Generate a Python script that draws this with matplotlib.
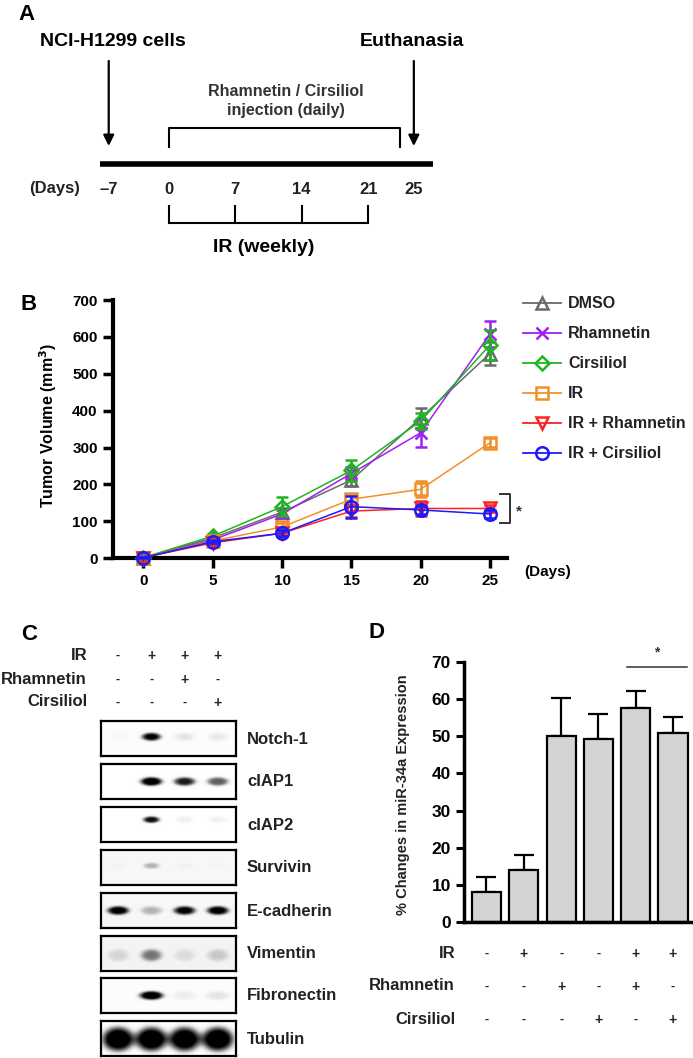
import numpy as np
import matplotlib
matplotlib.use('Agg')
import matplotlib.pyplot as plt
import matplotlib.transforms as mtransforms

plt.rcParams['font.family'] = ['Liberation Sans', 'DejaVu Sans']
plt.rcParams['font.weight'] = 'bold'
plt.rcParams['axes.labelweight'] = 'bold'
plt.rcParams['mathtext.default'] = 'bf'

W, H, DPI = 693, 1058, 100

# ---------------- data ----------------
# Panel A (schedule)
scheme_days = [-7, 0, 7, 14, 21, 25]
ir_days = [0, 7, 14, 21]
injection_span = [0, 24.3]

# Panel B (tumor volume)
days = [0, 5, 10, 15, 20, 25]
series_names = ['DMSO', 'Rhamnetin', 'Cirsiliol', 'IR', 'IR + Rhamnetin', 'IR + Cirsiliol']
dmso = [2, 55, 125, 212, 380, 555]
dmso_err = [1, 5, 12, 15, 28, 30]
rham = [2, 50, 120, 230, 340, 608]
rham_err = [1, 5, 10, 18, 38, 35]
cirs = [2, 60, 140, 238, 372, 578]
cirs_err = [1, 6, 25, 28, 22, 40]
ir = [2, 47, 85, 160, 187, 313]
ir_err = [1, 5, 12, 14, 22, 12]
ir_rham = [2, 42, 68, 128, 135, 135]
ir_rham_err = [1, 4, 8, 15, 20, 10]
ir_cirs = [2, 45, 68, 140, 131, 120]
ir_cirs_err = [1, 4, 8, 30, 10, 10]

# Panel C (western blot band intensities, lanes 1-4)
blot_names = ['Notch-1', 'cIAP1', 'cIAP2', 'Survivin', 'E-cadherin', 'Vimentin', 'Fibronectin', 'Tubulin']
notch1 = [0.03, 0.85, 0.14, 0.12]
ciap1 = [0.0, 0.95, 0.78, 0.60]
ciap2 = [0.0, 0.82, 0.10, 0.10]
survivin = [0.04, 0.30, 0.05, 0.03]
ecadherin = [0.85, 0.30, 0.82, 0.86]
vimentin = [0.15, 0.45, 0.12, 0.20]
fibronectin = [0.0, 0.95, 0.10, 0.14]
tubulin = [1.0, 1.0, 0.98, 1.0]
c_ir = ['-', '+', '+', '+']
c_rham = ['-', '-', '+', '-']
c_cirs = ['-', '-', '-', '+']

# Panel D (miR-34a expression)
d_values = [8, 14, 50, 49.3, 57.5, 51]
d_err = [4, 4, 10.3, 6.7, 4.8, 4.3]
d_ir = ['-', '+', '-', '-', '+', '+']
d_rham = ['-', '-', '+', '-', '+', '-']
d_cirs = ['-', '-', '-', '+', '-', '+']

# ---------------- figure ----------------
fig = plt.figure(figsize=(W / DPI, H / DPI), dpi=DPI)


def rect(x0, y0, x1, y1):
    return [x0 / W, 1 - y1 / H, (x1 - x0) / W, (y1 - y0) / H]


# ===== Panel A =====
ax_a = fig.add_axes(rect(0, 0, W, 290))
day_slope, day_zero = 9.505, 168.6
ax_a.set_xlim(-day_zero / day_slope, (W - day_zero) / day_slope)
ax_a.set_ylim(290, 0)
ax_a.axis('off')
ax_a.text(-14.9, 15, 'A', fontsize=16, ha='center', va='center')
ax_a.text(-5.9, 42, 'NCI-H1299 cells', fontsize=14, ha='center', va='center')
ax_a.text(25.6, 42, 'Euthanasia', fontsize=14, ha='center', va='center')
for d in (scheme_days[0], scheme_days[-1]):
    xd = d + (0.8 if d == scheme_days[-1] else 0.7)
    ax_a.annotate('', xy=(xd, 146), xytext=(xd, 61),
                  arrowprops=dict(arrowstyle='-|>', lw=1.6, color='black',
                                  mutation_scale=16, shrinkA=0, shrinkB=0))
ax_a.plot([-7.2, 27.8], [164, 164], color='black', lw=4, solid_capstyle='butt')
ax_a.plot([injection_span[0]] * 2 + [injection_span[1]] * 2, [147, 128, 128, 147],
          color='black', lw=1.5)
ax_a.text(12.3, 91, 'Rhamnetin / Cirsiliol', fontsize=11.5, ha='center', va='center', color='#333333')
ax_a.text(12.3, 110, 'injection (daily)', fontsize=11.5, ha='center', va='center', color='#333333')
ax_a.text(-12.0, 189, '(Days)', fontsize=12, ha='center', va='center', color='#222222')
for d in scheme_days:
    lab = '\u20137' if d < 0 else str(d)
    off = 0.7 if d < 0 else (0.8 if d == 25 else 0)
    ax_a.text(d + off, 189, lab, fontsize=12, ha='center', va='center', color='#222222')
ax_a.plot([ir_days[0], ir_days[-1]], [223, 223], color='black', lw=1.5)
for d in ir_days:
    ax_a.plot([d, d], [223, 206], color='black', lw=1.5)
ax_a.text(10.0, 247, 'IR (weekly)', fontsize=14, ha='center', va='center')

# ===== Panel B =====
ax_b = fig.add_axes(rect(113, 300, 507, 558.3))
ax_b.set_xlim(-2.2, 26.23)
ax_b.set_ylim(0, 700)
styles = [('#6a6a6a', '^'), ('#a020f0', 'x'), ('#1fb51f', 'D'),
          ('#f0902a', 's'), ('#ff2020', 'v'), ('#1a1aff', 'o')]
vals = [dmso, rham, cirs, ir, ir_rham, ir_cirs]
errs = [dmso_err, rham_err, cirs_err, ir_err, ir_rham_err, ir_cirs_err]
for k, (v, e, (c, m)) in enumerate(zip(vals, errs, styles)):
    ms = 7 if m == 'D' else 9
    ax_b.errorbar(days, v, yerr=e, color=c, marker=m, mfc='none', mec=c, ms=ms,
                  mew=1.8, lw=1.1, capsize=4.5, capthick=1.8, elinewidth=1.8,
                  clip_on=False, zorder=3 + k)
for s in ('top', 'right'):
    ax_b.spines[s].set_visible(False)
for s in ('left', 'bottom'):
    ax_b.spines[s].set_linewidth(3)
ax_b.set_xticks(days)
ax_b.set_yticks(range(0, 701, 100))
ax_b.tick_params(width=2.5, length=7, labelsize=11, direction='out', pad=4)
ax_b.plot([25.75, 26.45, 26.45, 25.75], [175, 175, 95, 95], color='#333333', lw=1.4, clip_on=False)
ax_b.text(27.1, 128, '*', fontsize=11, ha='center', va='center', color='#333333')
ax_b.text(27.5, -36, '(Days)', fontsize=11, ha='left', va='center', clip_on=False)

# ===== Panel C: blots =====
blot_vals = [notch1, ciap1, ciap2, survivin, ecadherin, vimentin, fibronectin, tubulin]
# (band centre y, half height, half width, background)
band_shape = [(0.45, 0.12, 0.30, 0.02), (0.50, 0.13, 0.34, 0.0), (0.36, 0.10, 0.26, 0.0),
              (0.45, 0.09, 0.25, 0.05), (0.50, 0.13, 0.34, 0.05), (0.55, 0.18, 0.33, 0.08),
              (0.50, 0.13, 0.37, 0.02), (0.52, 0.36, 0.49, 0.0)]
box_tops = [721, 764, 807, 850, 893, 936, 978, 1021]
lanes = np.arange(1, 5)
xs = np.linspace(0.49, 4.54, 270)
ys = np.linspace(0, 1, 70)
XX, YY = np.meshgrid(xs, ys)
blot_axes = []
for name, vv, (yc, hh, hw, bg), top in zip(blot_names, blot_vals, band_shape, box_tops):
    axb = fig.add_axes(rect(101, top, 236, top + 35))
    img = np.full_like(XX, bg)
    for ln, inten in zip(lanes, vv):
        r = ((XX - ln) / hw) ** 2 + ((YY - yc) / hh) ** 2
        img = img + inten * np.exp(-r ** 2)
    img = np.clip(img, 0, 1)
    axb.imshow(img, cmap='Greys', vmin=0, vmax=0.85, extent=(0.49, 4.54, 1, 0),
               aspect='auto', interpolation='bilinear')
    axb.set_xlim(0.49, 4.54)
    axb.set_ylim(1, 0)
    axb.set_xticks([])
    axb.set_yticks([])
    for s in axb.spines.values():
        s.set_linewidth(1.6)
    blot_axes.append(axb)

# ===== Panel D =====
ax_d = fig.add_axes(rect(464, 662, 692, 922))
xi = np.arange(len(d_values))
ax_d.bar(xi, d_values, width=0.78, color='#d4d4d4', edgecolor='black', linewidth=1.6, zorder=2)
ax_d.errorbar(xi, d_values, yerr=[np.zeros(len(d_err)), d_err], fmt='none', ecolor='black',
              elinewidth=1.6, capsize=7, capthick=1.6, zorder=1)
ax_d.set_xlim(-0.603, 5.51)
ax_d.set_ylim(0, 70)
ax_d.set_xticks([])
ax_d.set_yticks(range(0, 71, 10))
for s in ('top', 'right'):
    ax_d.spines[s].set_visible(False)
for s in ('left', 'bottom'):
    ax_d.spines[s].set_linewidth(2.5)
ax_d.tick_params(width=2.2, length=6, labelsize=12.5)
ax_d.plot([3.77, 5.38], [68.7, 68.7], color='#333333', lw=1.1, clip_on=False)
ax_d.text(4.57, 72.5, '*', fontsize=10, ha='center', va='center', color='#333333', clip_on=False)

# ===== overlay (labels) =====
ov = fig.add_axes([0, 0, 1, 1])
ov.set_xlim(0, W)
ov.set_ylim(H, 0)
ov.axis('off')
ov.patch.set_visible(False)

ov.text(29, 304, 'B', fontsize=16, ha='center', va='center')
ov.text(48, 425, r'Tumor Volume (mm$^3$)', fontsize=11.5, rotation=90, ha='center', va='center')
leg_y0, leg_dy = 303, 30
for k, (name, (c, m)) in enumerate(zip(series_names, styles)):
    y = leg_y0 + k * leg_dy
    ov.plot([523, 561], [y, y], color=c, lw=1.3)
    ov.plot([542], [y], marker=m, mfc='none', mec=c, ms=7 if m == 'D' else 9, mew=1.8, color=c)
    ov.text(568, y, name, fontsize=11.5, ha='left', va='center', color='#222222')

ov.text(29, 634, 'C', fontsize=16, ha='center', va='center')
tr_c = mtransforms.blended_transform_factory(blot_axes[0].transData, ov.transData)
for lab, signs, y in zip(['IR', 'Rhamnetin', 'Cirsiliol'], [c_ir, c_rham, c_cirs], [655, 679, 702]):
    ov.text(87, y, lab, fontsize=12, ha='right', va='center', color='#222222')
    for ln, sg in zip(lanes, signs):
        ov.text(ln, y + 1, sg, fontsize=10 if sg == '+' else 9, ha='center', va='center',
                transform=tr_c, color='#222222')
for name, top in zip(blot_names, box_tops):
    ov.text(247, top + 18, name, fontsize=12, ha='left', va='center', color='#222222')

ov.text(377, 633, 'D', fontsize=16, ha='center', va='center')
ov.text(403, 795, '% Changes in miR-34a Expression', fontsize=10.5, rotation=90,
        ha='center', va='center', color='#222222')
tr_d = mtransforms.blended_transform_factory(ax_d.transData, ov.transData)
for lab, signs, y in zip(['IR', 'Rhamnetin', 'Cirsiliol'], [d_ir, d_rham, d_cirs], [953, 986, 1019]):
    ov.text(455, y, lab, fontsize=12, ha='right', va='center', color='#222222')
    for xx, sg in zip(xi, signs):
        ov.text(xx, y + 1, sg, fontsize=10 if sg == '+' else 9, ha='center', va='center',
                transform=tr_d, color='#222222')

fig.savefig('out.png', dpi=DPI)
